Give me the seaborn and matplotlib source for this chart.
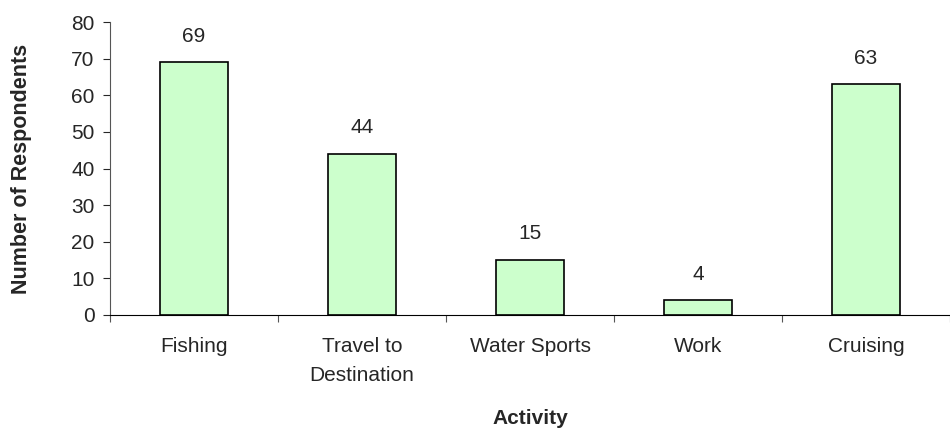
import pandas as pd
import seaborn as sns
import matplotlib.pyplot as plt
import numpy as np

activities = ["Fishing", "Travel to\nDestination", "Water Sports", "Work", "Cruising"]
respondents = [69, 44, 15, 4, 63]

df = pd.DataFrame({"activity": activities, "n": respondents})

sns.set_style("white")
plt.rcParams["font.family"] = ["Liberation Sans", "DejaVu Sans"]

fig = plt.figure(figsize=(9.5, 4.33), dpi=100)
ax = fig.add_axes([110 / 950, 1 - 315 / 433, 840 / 950, (315 - 22) / 433])

sns.barplot(data=df, x="activity", y="n", color="#CCFFCC", saturation=1,
            width=0.4, edgecolor="black", linewidth=1.2, ax=ax)

# value labels above bars
for i, v in enumerate(respondents):
    ax.annotate(str(v), (i, v), xytext=(0, 12), textcoords="offset points",
                ha="center", va="bottom", fontsize=15)

ax.set_ylim(0, 80)
ax.set_xlim(-0.5, 4.47)
ax.set_yticks(range(0, 81, 10))

# category boundaries as major ticks, names on minor ticks
ax.set_xticks(np.arange(-0.5, 5, 1))
ax.set_xticklabels([])
ax.set_xticks(range(len(activities)), minor=True)
ax.set_xticklabels(activities, minor=True, fontsize=15, linespacing=1.65)
ax.tick_params(axis="x", which="major", length=5, width=0.8, color="#555555", direction="out", bottom=True)
ax.tick_params(axis="x", which="minor", length=0, pad=16)
ax.tick_params(axis="y", length=5, width=0.8, direction="out", left=True, labelsize=15, pad=6)

for s in ["top", "right"]:
    ax.spines[s].set_visible(False)
ax.spines["left"].set_color("#555555")
ax.spines["bottom"].set_color("black")

ax.set_xlabel("Activity", fontsize=15, fontweight="bold", labelpad=17)
ax.set_ylabel("Number of Respondents", fontsize=15.5, fontweight="bold", labelpad=28)

fig.savefig("out.png", dpi=100)
